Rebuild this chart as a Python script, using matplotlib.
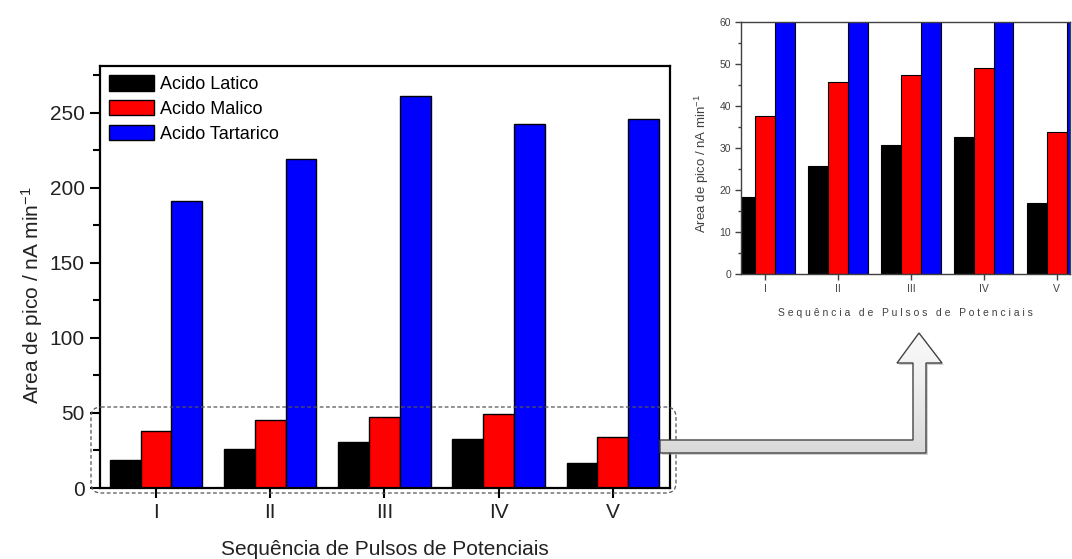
import numpy as np
import matplotlib
matplotlib.use("Agg")
import matplotlib.pyplot as plt
from matplotlib.patches import FancyBboxPatch, Polygon
from matplotlib.ticker import MultipleLocator

plt.rcParams['font.family'] = ['Liberation Sans', 'DejaVu Sans']
plt.rcParams['mathtext.fontset'] = 'custom'
plt.rcParams['mathtext.rm'] = 'Liberation Sans'
plt.rcParams['mathtext.it'] = 'Liberation Sans'

# peak areas for each pulse sequence
sequences = ['I', 'II', 'III', 'IV', 'V']
latico = [18.4, 25.8, 30.7, 32.6, 16.9]
malico = [37.7, 45.6, 47.5, 49.1, 33.8]
tartarico = [190.9, 219.1, 260.7, 242.5, 245.5]

series = [('Acido Latico', latico, 'black'),
          ('Acido Malico', malico, 'red'),
          ('Acido Tartarico', tartarico, 'blue')]

W, H = 1072, 559
fig = plt.figure(figsize=(W / 100, H / 100), dpi=100)


def px_axes(left, top, right, bottom):
    # pixel box -> figure fraction
    return [left / W, 1 - bottom / H, (right - left) / W, (bottom - top) / H]


x = np.arange(1, len(sequences) + 1)
bw = 0.27


def draw_bars(ax, lw):
    for i, (name, vals, col) in enumerate(series):
        ax.bar(x + (i - 1) * bw, vals, bw, color=col, edgecolor='black',
               linewidth=lw, label=name)


ylab = r'Area de pico / nA min$^{\mathregular{-1}}$'

# main chart
ax = fig.add_axes(px_axes(100, 66, 670, 488))
draw_bars(ax, 1.0)
ax.set_xlim(0.51, 5.5)
ax.set_ylim(0, 281)
ax.set_xticks(x)
ax.set_xticklabels(sequences)
ax.yaxis.set_major_locator(MultipleLocator(50))
ax.yaxis.set_minor_locator(MultipleLocator(25))
ax.tick_params(axis='both', which='major', direction='out', length=7, width=1.5,
               labelsize=15, colors='black', labelcolor='#222222', pad=4)
ax.tick_params(axis='y', which='minor', direction='out', length=5, width=1.5)
ax.tick_params(top=False, right=False)
for s in ax.spines.values():
    s.set_linewidth(1.6)
ax.set_xlabel('Sequência de Pulsos de Potenciais', fontsize=15, color='#222222',
              labelpad=13)
ax.set_ylabel(ylab, fontsize=15, color='#222222')
ax.yaxis.set_label_coords(-0.097, 0.457)
ax.legend(loc='upper left', bbox_to_anchor=(0.0, 1.0), frameon=False,
          fontsize=13, handlelength=2.5, handleheight=0.95, labelspacing=0.38,
          handletextpad=0.35, borderaxespad=0.1)

# zoomed inset
axi = fig.add_axes(px_axes(741, 22, 1070, 274))
draw_bars(axi, 0.8)
axi.set_xlim(0.67, 5.18)
axi.set_ylim(0, 60)
axi.set_xticks(x)
axi.set_xticklabels(sequences)
axi.yaxis.set_major_locator(MultipleLocator(10))
axi.yaxis.set_minor_locator(MultipleLocator(5))
axi.tick_params(axis='both', which='major', direction='out', length=4, width=1,
                labelsize=7.5, colors='#404040', pad=3)
axi.tick_params(axis='y', which='minor', direction='out', length=2.5, width=1,
                colors='#404040')
axi.tick_params(top=False, right=False)
for s in axi.spines.values():
    s.set_color('#404040')
    s.set_linewidth(1.0)
axi.set_xlabel('S e q u ê n c i a   d e   P u l s o s   d e   P o t e n c i a i s',
               fontsize=7.5, color='#404040', labelpad=10)
axi.set_ylabel(ylab, fontsize=9.5, color='#404040')
axi.yaxis.set_label_coords(-0.092, 0.44)

# overlay in pixel coordinates for the selection box and the arrow
ov = fig.add_axes([0, 0, 1, 1], zorder=10)
ov.axis('off')
ov.patch.set_visible(False)

box = FancyBboxPatch((91, 407), 585, 86, boxstyle='round,pad=0,rounding_size=10',
                     fill=False, linestyle=(0, (3, 2)), edgecolor='#555555',
                     linewidth=0.9)
ov.add_patch(box)

arrow_pts = [(660, 440), (913, 440), (913, 363), (897, 363), (919, 333),
             (942, 363), (926, 363), (926, 453), (660, 453)]
shadow = Polygon([(px + 2, py + 2) for px, py in arrow_pts], closed=True,
                 facecolor='#999999', edgecolor='none', alpha=0.45)
ov.add_patch(shadow)
grad = np.linspace(0, 1, 256).reshape(-1, 1)
img = ov.imshow(grad, cmap=plt.get_cmap('Greys'), vmin=-0.2, vmax=4.5,
                extent=(655, 945, 455, 330), aspect='auto', zorder=2)
arrow = Polygon(arrow_pts, closed=True, facecolor='none', edgecolor='#444444',
                linewidth=1.0, zorder=3)
ov.add_patch(arrow)
img.set_clip_path(arrow)
ov.set_xlim(0, W)
ov.set_ylim(H, 0)

fig.savefig('out.png', dpi=100)
